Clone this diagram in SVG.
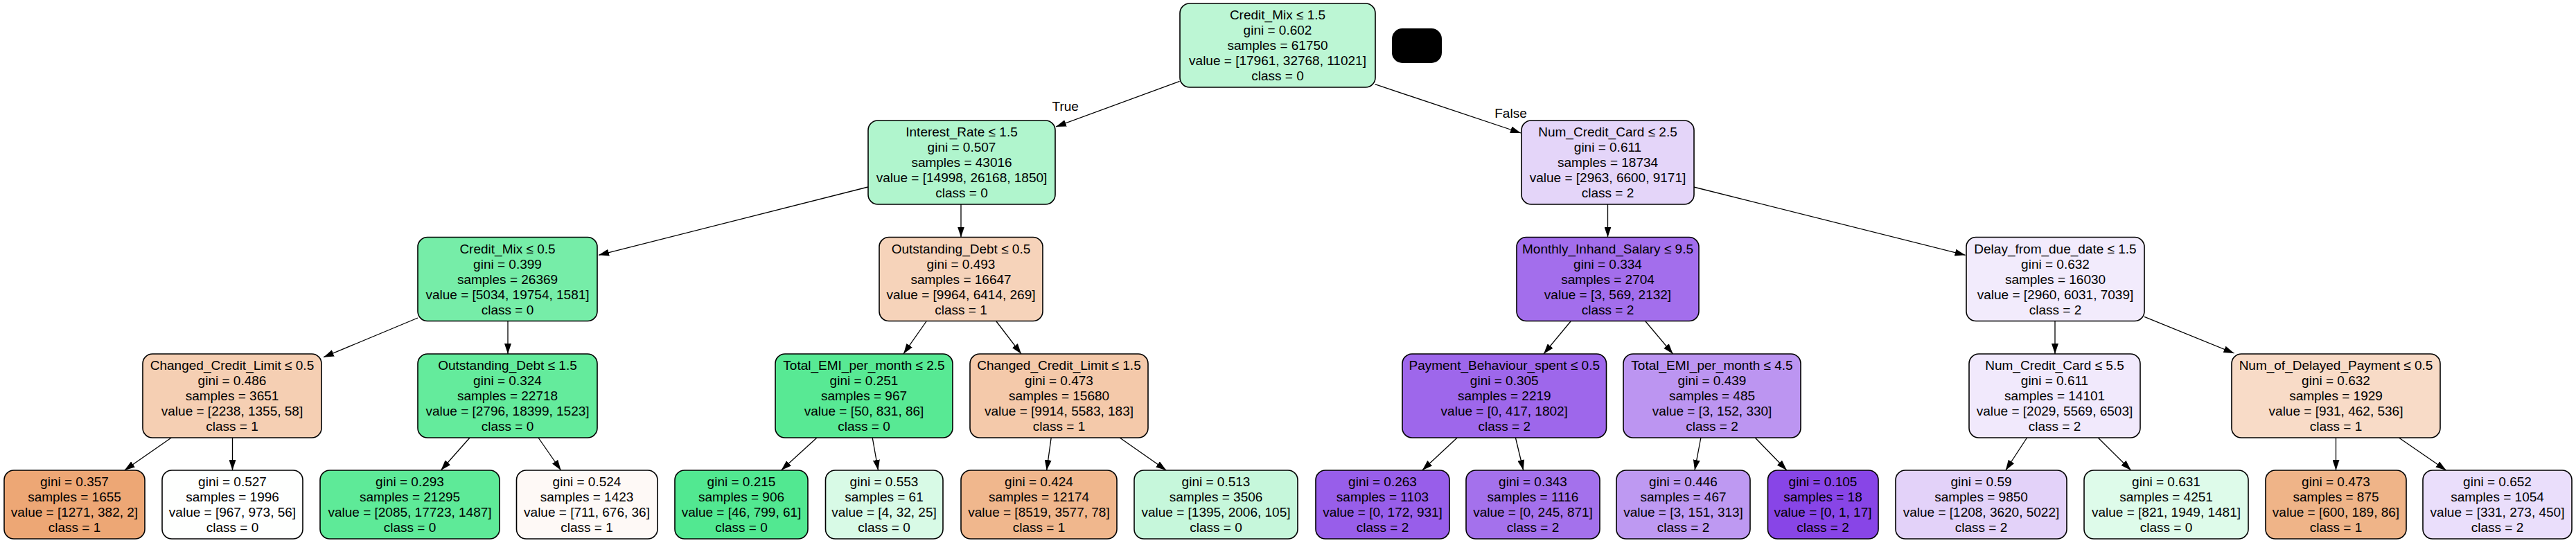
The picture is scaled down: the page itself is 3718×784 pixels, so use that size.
<svg xmlns="http://www.w3.org/2000/svg" width="3718" height="784" viewBox="0 0 3718 784">
<style>
.bx{stroke:#000;stroke-width:1.6}
text{font-family:"Liberation Sans",Arial,Helvetica,sans-serif;font-size:19px;text-anchor:middle;fill:#000}
.e{stroke:#000;stroke-width:1.3;fill:none;marker-end:url(#ah)}
</style>
<defs>
<marker id="ah" viewBox="0 0 15 10" refX="15" refY="5" markerWidth="15" markerHeight="10" markerUnits="userSpaceOnUse" orient="auto">
<path d="M0,0 L15,5 L0,10 Z" fill="#000"/>
</marker>
</defs>
<rect width="3718" height="784" fill="#fff"/>

<g id="connectors">
<line class="e" x1="1702.6" y1="117.3" x2="1524" y2="183"/>
<line class="e" x1="1984.6" y1="121.7" x2="2195" y2="192"/>
<line class="e" x1="1252.7" y1="270" x2="864" y2="368.3"/>
<line class="e" x1="1387" y1="295" x2="1387" y2="342.5"/>
<line class="e" x1="2320.5" y1="295" x2="2320.5" y2="342.5"/>
<line class="e" x1="2444.6" y1="270" x2="2836.6" y2="368.3"/>
<line class="e" x1="603" y1="459" x2="467" y2="515.7"/>
<line class="e" x1="733" y1="463.5" x2="733" y2="511"/>
<line class="e" x1="1337" y1="464" x2="1304" y2="511"/>
<line class="e" x1="1438" y1="464" x2="1474" y2="511"/>
<line class="e" x1="2267" y1="464" x2="2228" y2="511"/>
<line class="e" x1="2375" y1="464" x2="2414.6" y2="511"/>
<line class="e" x1="2966" y1="463.5" x2="2966" y2="511"/>
<line class="e" x1="3095" y1="457.3" x2="3224.5" y2="510"/>
<line class="e" x1="247.3" y1="632" x2="179.7" y2="679"/>
<line class="e" x1="335.5" y1="632" x2="335.5" y2="679"/>
<line class="e" x1="678" y1="632" x2="636.4" y2="679"/>
<line class="e" x1="777" y1="632" x2="809.6" y2="679"/>
<line class="e" x1="1179" y1="632" x2="1127.5" y2="679"/>
<line class="e" x1="1259.2" y1="632" x2="1267.5" y2="679"/>
<line class="e" x1="1517.2" y1="632" x2="1510.7" y2="679"/>
<line class="e" x1="1616.2" y1="632" x2="1683.3" y2="679"/>
<line class="e" x1="2103.2" y1="632" x2="2052.8" y2="679"/>
<line class="e" x1="2187.4" y1="632" x2="2198.7" y2="679"/>
<line class="e" x1="2454.9" y1="632" x2="2446" y2="679"/>
<line class="e" x1="2533.2" y1="632" x2="2578.9" y2="679"/>
<line class="e" x1="2925.6" y1="632" x2="2894.8" y2="679"/>
<line class="e" x1="3028.2" y1="632" x2="3075.7" y2="679"/>
<line class="e" x1="3371.5" y1="632" x2="3371.5" y2="679"/>
<line class="e" x1="3462.4" y1="632" x2="3530.6" y2="679"/>
<text x="1537.7" y="160">True</text>
<text x="2180.5" y="170">False</text>
</g>

<g id="n0">
<rect class="bx" x="1703" y="5" width="282" height="121" rx="14" fill="#bcf6d4"/>
<text x="1844" y="28.3">Credit_Mix ≤ 1.5</text>
<text x="1844" y="50.3">gini = 0.602</text>
<text x="1844" y="72.3">samples = 61750</text>
<text x="1844" y="94.3">value = [17961, 32768, 11021]</text>
<text x="1844" y="116.3">class = 0</text>
</g>
<g id="nblack">
<rect x="2009" y="41" width="72" height="50" rx="15" fill="#000"/>
</g>

<g id="n1">
<rect class="bx" x="1253" y="174" width="270" height="121" rx="14" fill="#b0f5cd"/>
<text x="1388" y="197.3">Interest_Rate ≤ 1.5</text>
<text x="1388" y="219.3">gini = 0.507</text>
<text x="1388" y="241.3">samples = 43016</text>
<text x="1388" y="263.3">value = [14998, 26168, 1850]</text>
<text x="1388" y="285.3">class = 0</text>
</g>
<g id="n2">
<rect class="bx" x="2196" y="174" width="249" height="121" rx="14" fill="#e4d5f9"/>
<text x="2320.5" y="197.3">Num_Credit_Card ≤ 2.5</text>
<text x="2320.5" y="219.3">gini = 0.611</text>
<text x="2320.5" y="241.3">samples = 18734</text>
<text x="2320.5" y="263.3">value = [2963, 6600, 9171]</text>
<text x="2320.5" y="285.3">class = 2</text>
</g>

<g id="n3">
<rect class="bx" x="603" y="342.5" width="259" height="121" rx="14" fill="#76eda8"/>
<text x="732.5" y="365.8">Credit_Mix ≤ 0.5</text>
<text x="732.5" y="387.8">gini = 0.399</text>
<text x="732.5" y="409.8">samples = 26369</text>
<text x="732.5" y="431.8">value = [5034, 19754, 1581]</text>
<text x="732.5" y="453.8">class = 0</text>
</g>
<g id="n4">
<rect class="bx" x="1269" y="342.5" width="236" height="121" rx="14" fill="#f6d3ba"/>
<text x="1387" y="365.8">Outstanding_Debt ≤ 0.5</text>
<text x="1387" y="387.8">gini = 0.493</text>
<text x="1387" y="409.8">samples = 16647</text>
<text x="1387" y="431.8">value = [9964, 6414, 269]</text>
<text x="1387" y="453.8">class = 1</text>
</g>
<g id="n5">
<rect class="bx" x="2189" y="342.5" width="263" height="121" rx="14" fill="#a36eec"/>
<text x="2320.5" y="365.8">Monthly_Inhand_Salary ≤ 9.5</text>
<text x="2320.5" y="387.8">gini = 0.334</text>
<text x="2320.5" y="409.8">samples = 2704</text>
<text x="2320.5" y="431.8">value = [3, 569, 2132]</text>
<text x="2320.5" y="453.8">class = 2</text>
</g>
<g id="n6">
<rect class="bx" x="2838" y="342.5" width="257" height="121" rx="14" fill="#f2ebfc"/>
<text x="2966.5" y="365.8">Delay_from_due_date ≤ 1.5</text>
<text x="2966.5" y="387.8">gini = 0.632</text>
<text x="2966.5" y="409.8">samples = 16030</text>
<text x="2966.5" y="431.8">value = [2960, 6031, 7039]</text>
<text x="2966.5" y="453.8">class = 2</text>
</g>

<g id="n7">
<rect class="bx" x="206" y="511" width="258" height="121" rx="14" fill="#f5cfb3"/>
<text x="335" y="534.3">Changed_Credit_Limit ≤ 0.5</text>
<text x="335" y="556.3">gini = 0.486</text>
<text x="335" y="578.3">samples = 3651</text>
<text x="335" y="600.3">value = [2238, 1355, 58]</text>
<text x="335" y="622.3">class = 1</text>
</g>
<g id="n8">
<rect class="bx" x="603" y="511" width="259" height="121" rx="14" fill="#64eb9c"/>
<text x="732.5" y="534.3">Outstanding_Debt ≤ 1.5</text>
<text x="732.5" y="556.3">gini = 0.324</text>
<text x="732.5" y="578.3">samples = 22718</text>
<text x="732.5" y="600.3">value = [2796, 18399, 1523]</text>
<text x="732.5" y="622.3">class = 0</text>
</g>
<g id="n9">
<rect class="bx" x="1119" y="511" width="256" height="121" rx="14" fill="#58e994"/>
<text x="1247" y="534.3">Total_EMI_per_month ≤ 2.5</text>
<text x="1247" y="556.3">gini = 0.251</text>
<text x="1247" y="578.3">samples = 967</text>
<text x="1247" y="600.3">value = [50, 831, 86]</text>
<text x="1247" y="622.3">class = 0</text>
</g>
<g id="n10">
<rect class="bx" x="1400" y="511" width="257" height="121" rx="14" fill="#f4c9aa"/>
<text x="1528.5" y="534.3">Changed_Credit_Limit ≤ 1.5</text>
<text x="1528.5" y="556.3">gini = 0.473</text>
<text x="1528.5" y="578.3">samples = 15680</text>
<text x="1528.5" y="600.3">value = [9914, 5583, 183]</text>
<text x="1528.5" y="622.3">class = 1</text>
</g>
<g id="n11">
<rect class="bx" x="2024" y="511" width="294.5" height="121" rx="14" fill="#9e67eb"/>
<text x="2171.25" y="534.3">Payment_Behaviour_spent ≤ 0.5</text>
<text x="2171.25" y="556.3">gini = 0.305</text>
<text x="2171.25" y="578.3">samples = 2219</text>
<text x="2171.25" y="600.3">value = [0, 417, 1802]</text>
<text x="2171.25" y="622.3">class = 2</text>
</g>
<g id="n12">
<rect class="bx" x="2343" y="511" width="256" height="121" rx="14" fill="#bc95f1"/>
<text x="2471" y="534.3">Total_EMI_per_month ≤ 4.5</text>
<text x="2471" y="556.3">gini = 0.439</text>
<text x="2471" y="578.3">samples = 485</text>
<text x="2471" y="600.3">value = [3, 152, 330]</text>
<text x="2471" y="622.3">class = 2</text>
</g>
<g id="n13">
<rect class="bx" x="2842" y="511" width="247" height="121" rx="14" fill="#f1e9fc"/>
<text x="2965.5" y="534.3">Num_Credit_Card ≤ 5.5</text>
<text x="2965.5" y="556.3">gini = 0.611</text>
<text x="2965.5" y="578.3">samples = 14101</text>
<text x="2965.5" y="600.3">value = [2029, 5569, 6503]</text>
<text x="2965.5" y="622.3">class = 2</text>
</g>
<g id="n14">
<rect class="bx" x="3221" y="511" width="301" height="121" rx="14" fill="#f8dbc7"/>
<text x="3371.5" y="534.3">Num_of_Delayed_Payment ≤ 0.5</text>
<text x="3371.5" y="556.3">gini = 0.632</text>
<text x="3371.5" y="578.3">samples = 1929</text>
<text x="3371.5" y="600.3">value = [931, 462, 536]</text>
<text x="3371.5" y="622.3">class = 1</text>
</g>

<g id="l1">
<rect class="bx" x="6" y="679" width="203" height="99" rx="14" fill="#eda775"/>
<text x="107.5" y="702.3">gini = 0.357</text>
<text x="107.5" y="724.3">samples = 1655</text>
<text x="107.5" y="746.3">value = [1271, 382, 2]</text>
<text x="107.5" y="768.3">class = 1</text>
</g>
<g id="l2">
<rect class="bx" x="234" y="679" width="203" height="99" rx="14" fill="#fefffe"/>
<text x="335.5" y="702.3">gini = 0.527</text>
<text x="335.5" y="724.3">samples = 1996</text>
<text x="335.5" y="746.3">value = [967, 973, 56]</text>
<text x="335.5" y="768.3">class = 0</text>
</g>
<g id="l3">
<rect class="bx" x="462" y="679" width="259" height="99" rx="14" fill="#5eea98"/>
<text x="591.5" y="702.3">gini = 0.293</text>
<text x="591.5" y="724.3">samples = 21295</text>
<text x="591.5" y="746.3">value = [2085, 17723, 1487]</text>
<text x="591.5" y="768.3">class = 0</text>
</g>
<g id="l4">
<rect class="bx" x="745.5" y="679" width="203.5" height="99" rx="14" fill="#fef9f6"/>
<text x="847" y="702.3">gini = 0.524</text>
<text x="847" y="724.3">samples = 1423</text>
<text x="847" y="746.3">value = [711, 676, 36]</text>
<text x="847" y="768.3">class = 1</text>
</g>
<g id="l5">
<rect class="bx" x="974" y="679" width="192" height="99" rx="14" fill="#52e891"/>
<text x="1070" y="702.3">gini = 0.215</text>
<text x="1070" y="724.3">samples = 906</text>
<text x="1070" y="746.3">value = [46, 799, 61]</text>
<text x="1070" y="768.3">class = 0</text>
</g>
<g id="l6">
<rect class="bx" x="1191.5" y="679" width="169.5" height="99" rx="14" fill="#d8fae6"/>
<text x="1276" y="702.3">gini = 0.553</text>
<text x="1276" y="724.3">samples = 61</text>
<text x="1276" y="746.3">value = [4, 32, 25]</text>
<text x="1276" y="768.3">class = 0</text>
</g>
<g id="l7">
<rect class="bx" x="1387" y="679" width="225" height="99" rx="14" fill="#f0b78d"/>
<text x="1499.5" y="702.3">gini = 0.424</text>
<text x="1499.5" y="724.3">samples = 12174</text>
<text x="1499.5" y="746.3">value = [8519, 3577, 78]</text>
<text x="1499.5" y="768.3">class = 1</text>
</g>
<g id="l8">
<rect class="bx" x="1637" y="679" width="236" height="99" rx="14" fill="#c6f7db"/>
<text x="1755" y="702.3">gini = 0.513</text>
<text x="1755" y="724.3">samples = 3506</text>
<text x="1755" y="746.3">value = [1395, 2006, 105]</text>
<text x="1755" y="768.3">class = 0</text>
</g>
<g id="l9">
<rect class="bx" x="1899" y="679" width="193" height="99" rx="14" fill="#985eea"/>
<text x="1995.5" y="702.3">gini = 0.263</text>
<text x="1995.5" y="724.3">samples = 1103</text>
<text x="1995.5" y="746.3">value = [0, 172, 931]</text>
<text x="1995.5" y="768.3">class = 2</text>
</g>
<g id="l10">
<rect class="bx" x="2116" y="679" width="193" height="99" rx="14" fill="#a471ec"/>
<text x="2212.5" y="702.3">gini = 0.343</text>
<text x="2212.5" y="724.3">samples = 1116</text>
<text x="2212.5" y="746.3">value = [0, 245, 871]</text>
<text x="2212.5" y="768.3">class = 2</text>
</g>
<g id="l11">
<rect class="bx" x="2333" y="679" width="193" height="99" rx="14" fill="#be99f2"/>
<text x="2429.5" y="702.3">gini = 0.446</text>
<text x="2429.5" y="724.3">samples = 467</text>
<text x="2429.5" y="746.3">value = [3, 151, 313]</text>
<text x="2429.5" y="768.3">class = 2</text>
</g>
<g id="l12">
<rect class="bx" x="2551.5" y="679" width="159.5" height="99" rx="14" fill="#8845e7"/>
<text x="2631" y="702.3">gini = 0.105</text>
<text x="2631" y="724.3">samples = 18</text>
<text x="2631" y="746.3">value = [0, 1, 17]</text>
<text x="2631" y="768.3">class = 2</text>
</g>
<g id="l13">
<rect class="bx" x="2736" y="679" width="247" height="99" rx="14" fill="#e3d2f9"/>
<text x="2859.5" y="702.3">gini = 0.59</text>
<text x="2859.5" y="724.3">samples = 9850</text>
<text x="2859.5" y="746.3">value = [1208, 3620, 5022]</text>
<text x="2859.5" y="768.3">class = 2</text>
</g>
<g id="l14">
<rect class="bx" x="3008" y="679" width="237" height="99" rx="14" fill="#defbea"/>
<text x="3126.5" y="702.3">gini = 0.631</text>
<text x="3126.5" y="724.3">samples = 4251</text>
<text x="3126.5" y="746.3">value = [821, 1949, 1481]</text>
<text x="3126.5" y="768.3">class = 0</text>
</g>
<g id="l15">
<rect class="bx" x="3270" y="679" width="203" height="99" rx="14" fill="#efb488"/>
<text x="3371.5" y="702.3">gini = 0.473</text>
<text x="3371.5" y="724.3">samples = 875</text>
<text x="3371.5" y="746.3">value = [600, 189, 86]</text>
<text x="3371.5" y="768.3">class = 1</text>
</g>
<g id="l16">
<rect class="bx" x="3497" y="679" width="215" height="99" rx="14" fill="#eadefb"/>
<text x="3604.5" y="702.3">gini = 0.652</text>
<text x="3604.5" y="724.3">samples = 1054</text>
<text x="3604.5" y="746.3">value = [331, 273, 450]</text>
<text x="3604.5" y="768.3">class = 2</text>
</g>
</svg>
